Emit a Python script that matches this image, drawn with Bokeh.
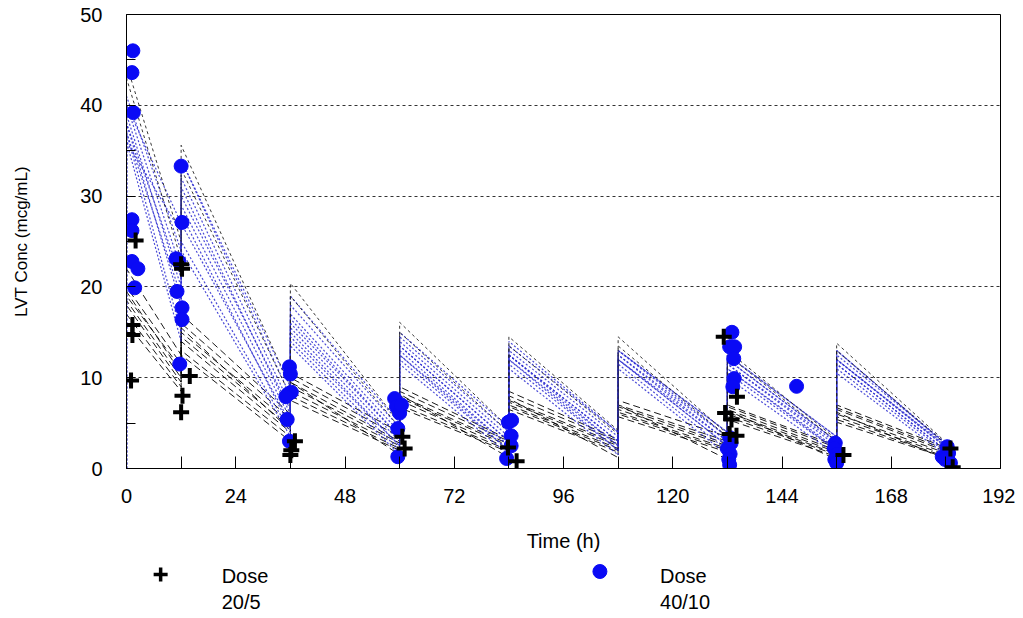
from bokeh.plotting import figure
from bokeh.models import Range1d, FixedTicker
from bokeh.layouts import column
from bokeh.core.properties import value
from bokeh.embed import file_html
from bokeh.resources import INLINE

# ---------------- data ----------------
dose_times = [0, 12, 36, 60, 84, 108, 132, 156]
end_time = 180

# Dose 40/10 predicted individual profiles (peak after each dose, trough before next dose)
blue_peaks = [
    [41, 32, 17.0, 14.0, 13.0, 13.0, 12.0, 12.5],
    [40, 31, 16.0, 13.5, 12.5, 12.5, 11.5, 12.0],
    [39, 29, 15.5, 13.0, 12.5, 12.0, 11.5, 12.0],
    [38, 27, 15.0, 12.5, 12.0, 12.0, 11.0, 11.5],
    [37, 25, 14.0, 12.0, 11.5, 11.5, 10.5, 11.0],
    [36, 34, 18.0, 14.5, 13.5, 13.0, 12.5, 13.0],
    [38, 30, 16.5, 13.5, 12.5, 12.5, 12.0, 12.0],
    [40, 34, 19.0, 15.0, 14.0, 13.0, 12.5, 13.0],
    [36, 24, 13.5, 11.5, 11.0, 11.0, 10.0, 10.5],
    [37, 28, 14.5, 12.5, 12.0, 12.0, 11.0, 11.5],
]
blue_troughs = [
    [24, 7.0, 4.0, 3.5, 3.5, 3.5, 3.0, 2.8],
    [22, 6.0, 3.5, 3.0, 3.0, 3.0, 2.8, 2.5],
    [20, 5.5, 3.0, 2.5, 2.5, 3.0, 2.5, 2.3],
    [18, 5.0, 2.5, 2.5, 2.5, 2.5, 2.2, 2.0],
    [15, 4.0, 2.0, 2.0, 2.0, 2.0, 2.0, 1.8],
    [26, 8.0, 4.5, 4.0, 4.0, 4.0, 3.5, 2.7],
    [21, 6.5, 3.5, 3.0, 3.0, 3.5, 3.0, 2.4],
    [27, 9.0, 5.0, 4.5, 4.0, 4.0, 3.5, 2.6],
    [14, 3.5, 1.5, 1.5, 1.5, 1.5, 1.5, 1.5],
    [19, 4.5, 2.5, 2.0, 2.0, 2.5, 2.0, 2.0],
]
# upper profiles of the 40/10 group (drawn black dotted)
upper_peaks = [
    [44.5, 35.6, 20.4, 16.1, 14.5, 14.5, 13.0, 13.8],
    [43.0, 33.0, 19.0, 15.0, 13.5, 13.5, 12.5, 13.0],
]
upper_troughs = [
    [25, 9.0, 5.0, 4.5, 4.2, 3.8, 3.2, 2.9],
    [23, 8.0, 4.5, 4.0, 3.8, 3.5, 3.0, 2.7],
]
# Dose 20/5 predicted individual profiles (black dashed)
black_peaks = [
    [22.0, 17.0, 10.5, 9.0, 8.5, 7.5, 7.0, 7.0],
    [20.0, 16.0, 10.0, 8.5, 8.0, 7.0, 6.8, 6.7],
    [19.0, 15.0, 9.5, 8.0, 7.5, 6.8, 6.5, 6.5],
    [18.5, 14.5, 9.0, 7.8, 7.3, 6.5, 6.2, 6.0],
    [18.0, 14.0, 8.5, 7.5, 7.0, 6.2, 6.0, 5.7],
    [17.0, 13.0, 8.0, 7.0, 6.8, 6.0, 5.7, 5.4],
    [16.0, 12.5, 7.5, 6.7, 6.5, 5.7, 5.4, 5.1],
    [19.5, 15.5, 9.5, 8.2, 7.7, 7.0, 6.4, 6.2],
]
black_troughs = [
    [12.5, 6.0, 4.0, 3.2, 3.2, 3.5, 2.5, 2.3],
    [11.5, 5.5, 3.5, 3.0, 3.0, 3.0, 2.3, 2.1],
    [11.0, 5.0, 3.0, 2.7, 2.7, 2.7, 2.0, 1.9],
    [10.0, 4.5, 2.8, 2.5, 2.5, 2.5, 1.8, 1.7],
    [9.5, 4.0, 2.5, 2.2, 2.2, 2.2, 1.6, 1.5],
    [9.0, 3.5, 2.2, 2.0, 2.0, 2.0, 1.5, 1.3],
    [8.5, 3.0, 2.0, 1.8, 1.8, 1.8, 1.3, 1.2],
    [10.5, 4.2, 1.5, 1.2, 1.2, 1.0, 1.0, 1.0],
]

# observed concentrations
obs40_time = [1.4, 1.2, 1.5, 1.2, 1.2, 1.2, 2.5, 1.8,
              12.0, 12.2, 10.9, 11.5, 11.1, 12.2, 12.2, 11.7,
              35.8, 36.0, 35.5, 36.2, 35.3, 35.8, 35.0,
              58.9, 59.3, 60.0, 59.6, 59.6, 60.4,
              83.9, 84.6, 84.5, 84.5, 83.5,
              133.0, 132.5, 133.6, 133.4, 133.5, 133.2, 132.5, 132.8, 132.0, 132.6, 132.3, 132.5,
              147.2,
              155.7, 155.5, 156.2, 155.6, 156.0,
              180.3, 179.2, 180.6, 181.0, 179.8]
obs40_conc = [46.0, 43.6, 39.2, 27.4, 26.2, 22.8, 22.0, 19.9,
              33.3, 27.1, 23.1, 22.8, 19.5, 17.7, 16.4, 11.5,
              11.2, 10.4, 8.2, 8.4, 5.4, 3.0, 7.9,
              7.7, 6.8, 6.1, 4.4, 1.3, 7.0,
              5.1, 5.3, 3.6, 2.5, 1.1,
              15.0, 13.4, 13.4, 12.1, 9.9, 9.0, 3.4, 2.8, 2.2, 1.6, 1.0, 0.4,
              9.05,
              2.8, 2.2, 1.6, 1.0, 0.6,
              2.4, 1.3, 1.7, 0.6, 1.0]
obs20_time = [2.0, 1.3, 1.3, 1.0,
              12.0, 12.2, 13.9, 12.3, 12.0,
              37.0, 36.2, 36.0,
              60.6, 61.1,
              83.8, 85.7,
              131.2, 134.1, 131.5, 132.9, 134.0, 132.5,
              157.5,
              181.0, 181.5]
obs20_conc = [25.1, 15.8, 14.7, 9.7,
              22.5, 22.0, 10.2, 8.0, 6.2,
              3.0, 2.0, 1.5,
              3.5, 2.2,
              2.3, 0.8,
              14.5, 7.9, 6.1, 5.4, 3.6, 3.8,
              1.5,
              2.2, 0.15]

x_ticks = [0, 24, 48, 72, 96, 120, 144, 168, 192]
x_minor = [12, 36, 60, 84, 108, 132, 156, 180]
y_ticks = [0, 10, 20, 30, 40, 50]
y_minor = [5, 15, 25, 35, 45]

legend_names = ["Dose", "Dose"]
legend_doses = ["20/5", "40/10"]


def sawtooth(peaks, troughs):
    xs, ys = [dose_times[0]], [0.0]
    nxt = dose_times[1:] + [end_time]
    for t, pk, t2, tr in zip(dose_times, peaks, nxt, troughs):
        xs += [t, t2]
        ys += [pk, tr]
    return xs, ys


FONT = "Liberation Sans"
W = 1015
BL, BR = 126, 15

p = figure(width=W, height=556, x_range=Range1d(0, 192), y_range=Range1d(0, 50),
           output_backend="svg", toolbar_location=None,
           min_border_left=BL, min_border_right=BR, min_border_top=14, min_border_bottom=88)
p.background_fill_color = "white"
p.border_fill_color = "white"
p.outline_line_color = "black"
p.outline_line_width = 1
p.outline_line_alpha = 1

p.xgrid.visible = False
p.ygrid.grid_line_color = "#333333"
p.ygrid.grid_line_dash = "3 3"
p.ygrid.grid_line_width = 1

p.xaxis.ticker = FixedTicker(ticks=x_ticks, minor_ticks=x_minor)
p.yaxis.ticker = FixedTicker(ticks=y_ticks, minor_ticks=y_minor)
for ax in (p.xaxis[0], p.yaxis[0]):
    ax.major_tick_out = 0
    ax.minor_tick_out = 0
    ax.axis_line_color = "black"
    ax.major_tick_line_color = "black"
    ax.minor_tick_line_color = "black"
    ax.major_label_text_font = FONT
    ax.major_label_text_font_size = "20px"
    ax.major_label_text_color = "black"
    ax.axis_label_text_font = FONT
    ax.axis_label_text_font_style = "normal"
    ax.axis_label_text_color = "black"
p.xaxis.major_tick_in = 12
p.xaxis.minor_tick_in = 12
p.yaxis.major_tick_in = 9
p.yaxis.minor_tick_in = 9
p.xaxis.major_label_standoff = 20
p.yaxis.major_label_standoff = 24
p.xaxis.axis_label = "Time (h)"
p.yaxis.axis_label = "LVT Conc (mcg/mL)"
p.xaxis.axis_label_text_font_size = "20px"
p.yaxis.axis_label_text_font_size = "17px"
p.xaxis.axis_label_standoff = 24
p.yaxis.axis_label_standoff = 46

# profiles
bx, by = zip(*[sawtooth(a, b) for a, b in zip(black_peaks, black_troughs)])
p.multi_line(list(bx), list(by), line_color="black", line_dash="7 4", line_width=1, line_alpha=0.9)
ux, uy = zip(*[sawtooth(a, b) for a, b in zip(blue_peaks, blue_troughs)])
p.multi_line(list(ux), list(uy), line_color="#2a2ad0", line_dash="2 2", line_width=1.2, line_alpha=0.85)
ex, ey = zip(*[sawtooth(a, b) for a, b in zip(upper_peaks, upper_troughs)])
p.multi_line(list(ex), list(ey), line_color="#222222", line_dash="3 3", line_width=1, line_alpha=0.9)

# observations
p.scatter(obs40_time, obs40_conc, marker="circle", size=14, fill_color="#0a0af5", line_color="#0a0af5")
p.scatter(obs20_time, obs20_conc, marker="cross", size=16, line_width=4, line_color="black")

# legend strip below the chart: same horizontal scale as the chart, pixel rows vertically
LH = 60
lg = figure(width=W, height=LH, x_range=Range1d(0, 192), y_range=Range1d(LH, 0),
            output_backend="svg", toolbar_location=None,
            min_border_left=BL, min_border_right=BR, min_border_top=0, min_border_bottom=0)
lg.axis.visible = False
lg.grid.visible = False
lg.outline_line_color = None
lg.background_fill_color = "white"
lg.border_fill_color = "white"
legend_marker_x = [7.5, 104.0]
legend_text_x = [20.9, 117.2]
lg.scatter([legend_marker_x[0]], [18], marker="cross", size=14, line_width=3.5, line_color="black")
lg.scatter([legend_marker_x[1]], [15], marker="circle", size=14, fill_color="#0a0af5", line_color="#0a0af5")
lg.text(x=legend_text_x, y=[19, 19], text=legend_names, text_align="left", text_baseline="middle",
        text_font=value(FONT), text_font_size="20px", text_color="black")
lg.text(x=legend_text_x, y=[45, 45], text=legend_doses, text_align="left", text_baseline="middle",
        text_font=value(FONT), text_font_size="20px", text_color="black")

open("out.html", "w").write(file_html(column(p, lg, spacing=0), INLINE))
